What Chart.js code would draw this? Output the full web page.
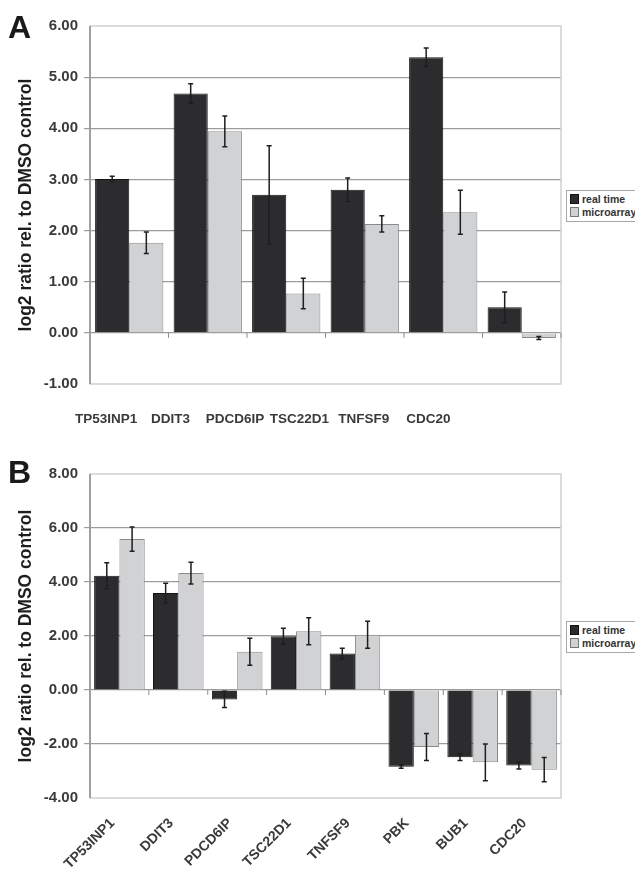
<!DOCTYPE html>
<html>
<head>
<meta charset="utf-8">
<script src="https://cdn.jsdelivr.net/npm/chart.js@4.4.1/dist/chart.umd.min.js"></script>
<style>
  html, body { margin: 0; padding: 0; background: #fff; overflow: hidden; }
  body { width: 635px; height: 871px; position: relative; font-family: "Liberation Sans", Arial, sans-serif; }
  .panel { position: absolute; left: 0; width: 635px; }
  .letter { position: absolute; left: 8px; font-weight: bold; font-size: 32px; color: #1a1a1a; }
  .legend { position: absolute; left: 566px; width: 80px; border: 1px solid #a8a8a8; background: #fff;
            font-weight: bold; font-size: 10.5px; color: #333; padding: 2px 0 2px 3px; line-height: 13px; }
  .legend span.sw { display: inline-block; width: 7px; height: 8px; margin-right: 3px; vertical-align: -1px; }
</style>
</head>
<body>
<div class="panel" style="top:0;height:440px;">
  <canvas id="chartA" width="635" height="440"></canvas>
  <div class="letter" style="top:9px;">A</div>
  <div class="legend" style="top:190px;">
    <div><span class="sw" style="background:#2c2b2e;border:1px solid #111;"></span>real time</div>
    <div><span class="sw" style="background:#d1d2d4;border:1px solid #777;"></span>microarray</div>
  </div>
</div>
<div class="panel" style="top:420px;height:451px;">
  <canvas id="chartB" width="635" height="451"></canvas>
  <div class="letter" style="top:34px;">B</div>
  <div class="legend" style="top:201px;">
    <div><span class="sw" style="background:#2c2b2e;border:1px solid #111;"></span>real time</div>
    <div><span class="sw" style="background:#d1d2d4;border:1px solid #777;"></span>microarray</div>
  </div>
</div>
<script>
// Panel A data
const genesA = ['TP53INP1', 'DDIT3', 'PDCD6IP', 'TSC22D1', 'TNFSF9', 'CDC20'];
const realA = [3.01, 4.68, 2.70, 2.80, 5.39, 0.50];
const realErrA = [0.05, 0.19, 0.96, 0.23, 0.18, 0.30];
const microA = [1.76, 3.94, 0.77, 2.13, 2.36, -0.10];
const microErrA = [0.21, 0.30, 0.30, 0.16, 0.43, 0.03];

// Panel B data
const genesB = ['TP53INP1', 'DDIT3', 'PDCD6IP', 'TSC22D1', 'TNFSF9', 'PBK', 'BUB1', 'CDC20'];
const realB = [4.23, 3.59, -0.35, 1.99, 1.35, -2.84, -2.49, -2.80];
const realErrB = [0.48, 0.36, 0.30, 0.30, 0.20, 0.06, 0.12, 0.13];
const microB = [5.59, 4.33, 1.42, 2.18, 2.05, -2.11, -2.68, -2.95];
const microErrB = [0.45, 0.40, 0.50, 0.50, 0.50, 0.50, 0.68, 0.45];

const darkColor = '#2c2b2e';
const lightColor = '#d1d2d4';
const gridColor = '#9c9c9c';
const tickColor = '#3a3a3a';

// frame, zero-line category ticks and error bars
const extrasPlugin = {
    id: 'extras',
    beforeDatasetsDraw(chart) {
        const { ctx, chartArea: a, scales } = chart;
        ctx.save();
        ctx.strokeStyle = '#cfcfcf';
        ctx.lineWidth = 1.5;
        ctx.strokeRect(a.left, a.top, a.right - a.left, a.bottom - a.top);
        ctx.strokeStyle = '#8c8c8c';
        ctx.beginPath();
        ctx.moveTo(a.left, a.top);
        ctx.lineTo(a.left, a.bottom);
        ctx.stroke();
        // small ticks between categories on the zero line
        const y0 = scales.y.getPixelForValue(0);
        const n = chart.data.labels.length;
        const step = (a.right - a.left) / n;
        ctx.lineWidth = 1;
        ctx.beginPath();
        for (let i = 1; i <= n; i++) {
            const x = a.left + step * i;
            ctx.moveTo(x, y0);
            ctx.lineTo(x, y0 + 5);
        }
        ctx.stroke();
        ctx.restore();
    },
    afterDatasetsDraw(chart) {
        const { ctx, scales } = chart;
        ctx.save();
        ctx.strokeStyle = '#1e1e1e';
        ctx.lineWidth = 1.5;
        chart.data.datasets.forEach((ds, di) => {
            const meta = chart.getDatasetMeta(di);
            meta.data.forEach((bar, i) => {
                const v = ds.data[i];
                const e = ds.errors[i];
                const yTop = scales.y.getPixelForValue(v + e);
                const yBot = scales.y.getPixelForValue(v - e);
                ctx.beginPath();
                ctx.moveTo(bar.x, yTop);
                ctx.lineTo(bar.x, yBot);
                ctx.moveTo(bar.x - 2.5, yTop);
                ctx.lineTo(bar.x + 2.5, yTop);
                ctx.moveTo(bar.x - 2.5, yBot);
                ctx.lineTo(bar.x + 2.5, yBot);
                ctx.stroke();
            });
        });
        ctx.restore();
    }
};

function yAxis(opts) {
    return {
        min: opts.min,
        max: opts.max,
        ticks: {
            stepSize: opts.step,
            color: tickColor,
            font: { family: 'Liberation Sans', weight: 'bold', size: 15 },
            padding: 6,
            callback: v => v.toFixed(2)
        },
        grid: {
            tickLength: 6,
            color: ctx => (ctx.tick && (ctx.tick.value === opts.min || ctx.tick.value === opts.max)) ? 'rgba(0,0,0,0)' : gridColor,
            lineWidth: 1.2
        },
        border: { display: false },
        title: {
            display: true,
            text: 'log2 ratio rel. to DMSO control',
            color: '#1e1e1e',
            font: { family: 'Liberation Sans', weight: 'bold', size: 17.5 },
            padding: { top: 16, bottom: 0 }
        },
        afterFit: s => { s.width = 90; }
    };
}

function datasets(real, realErr, micro, microErr) {
    return [
        { label: 'real time', data: real, errors: realErr,
          backgroundColor: darkColor, borderColor: '#151515', borderWidth: 1 },
        { label: 'microarray', data: micro, errors: microErr,
          backgroundColor: lightColor, borderColor: '#8a8a8a', borderWidth: 1 }
    ];
}

// Panel A: gene labels sit on their own evenly spaced row, narrower than the bars
new Chart(document.getElementById('chartA'), {
    type: 'bar',
    data: { labels: genesA, datasets: datasets(realA, realErrA, microA, microErrA) },
    options: {
        responsive: false,
        animation: false,
        layout: { padding: { top: 26, right: 74, left: 0, bottom: 0 } },
        datasets: { bar: { categoryPercentage: 0.87, barPercentage: 1.0 } },
        plugins: { legend: { display: false }, tooltip: { enabled: false } },
        scales: {
            x: { display: false },
            xl: {
                type: 'linear',
                position: 'bottom',
                offset: false,
                min: -0.25,
                max: 7.06,
                grid: { display: false, offset: false },
                border: { display: false },
                afterBuildTicks: s => { s.ticks = genesA.map((g, i) => ({ value: i })); },
                ticks: {
                    color: tickColor,
                    font: { family: 'Liberation Sans', weight: 'bold', size: 13.5 },
                    padding: 19,
                    maxRotation: 0,
                    minRotation: 0,
                    callback: (v, i) => genesA[i]
                },
                afterFit: s => { s.height = 56; }
            },
            y: yAxis({ min: -1, max: 6, step: 1 })
        }
    },
    plugins: [extrasPlugin]
});

new Chart(document.getElementById('chartB'), {
    type: 'bar',
    data: { labels: genesB, datasets: datasets(realB, realErrB, microB, microErrB) },
    options: {
        responsive: false,
        animation: false,
        layout: { padding: { top: 54, right: 74, left: 0, bottom: 0 } },
        datasets: { bar: { categoryPercentage: 0.86, barPercentage: 1.0 } },
        plugins: { legend: { display: false }, tooltip: { enabled: false } },
        scales: {
            x: {
                grid: { display: false },
                border: { display: false },
                ticks: {
                    color: tickColor,
                    font: { family: 'Liberation Sans', weight: 'bold', size: 14 },
                    padding: 9,
                    labelOffset: -7,
                    maxRotation: 45,
                    minRotation: 45,
                    autoSkip: false
                },
                afterFit: s => { s.height = 73; }
            },
            y: yAxis({ min: -4, max: 8, step: 2 })
        }
    },
    plugins: [extrasPlugin]
});
</script>
</body>
</html>
